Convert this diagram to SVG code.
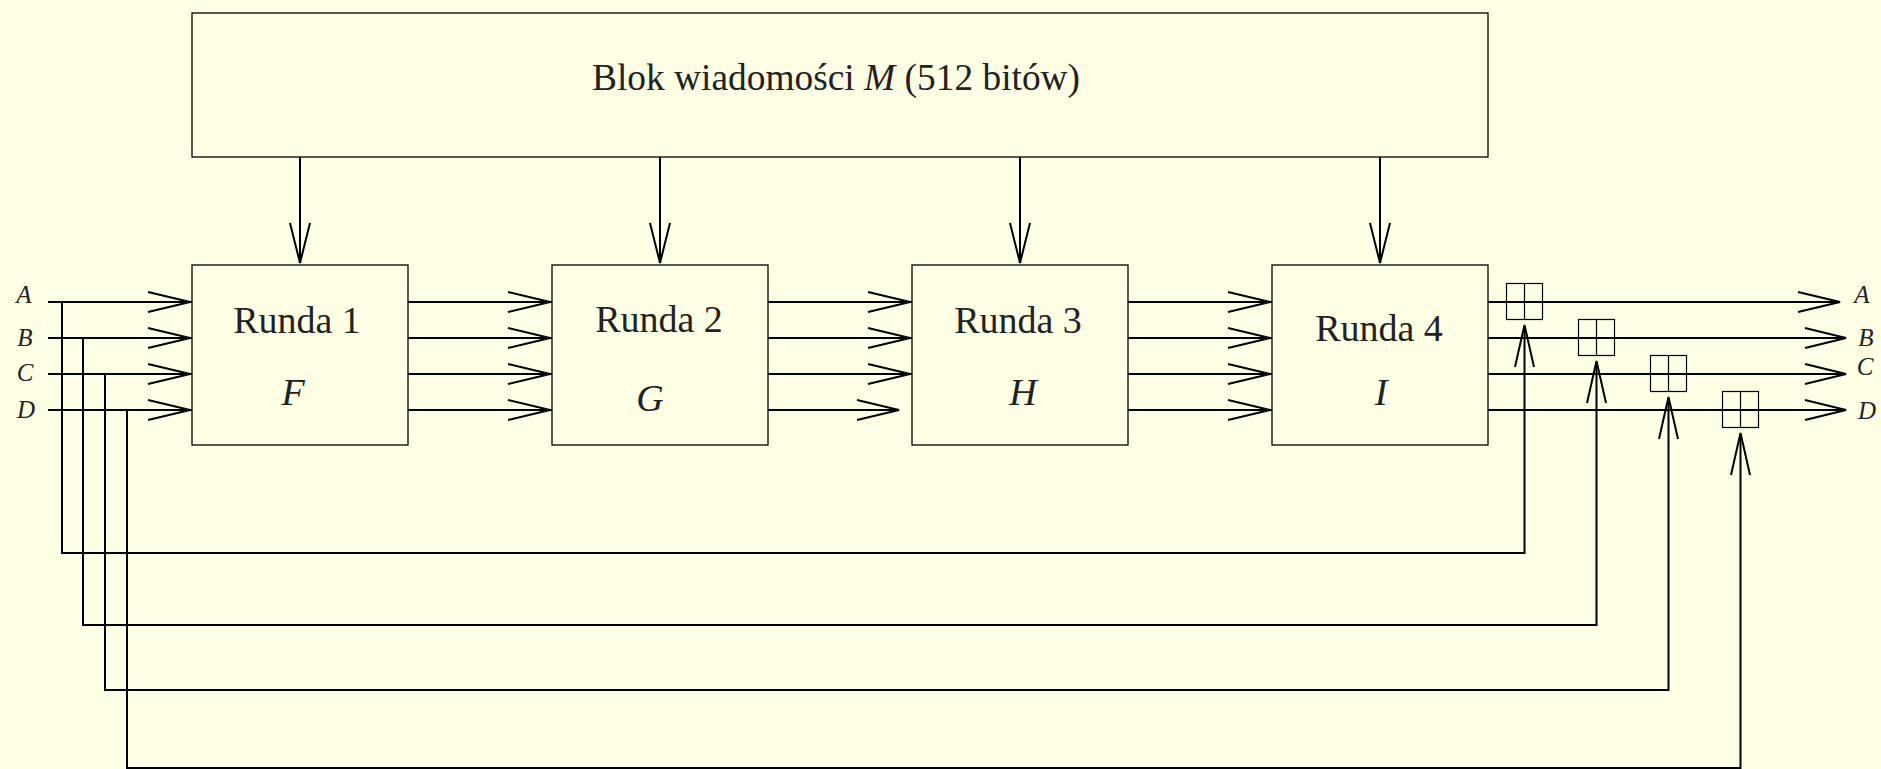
<svg xmlns="http://www.w3.org/2000/svg" width="1881" height="769" viewBox="0 0 1881 769">
<style>
.bg{fill:#FFFFE5}
.box{fill:none;stroke:#000;stroke-width:1.3}
.ln{fill:none;stroke:#000;stroke-width:2}
.ah{fill:none;stroke:#000;stroke-width:2;stroke-linejoin:miter}
.pl{fill:none;stroke:#000;stroke-width:1.2}
.t{font-family:"Liberation Serif",serif;font-size:38px;fill:#222}
.it{font-style:italic}
.lb{font-family:"Liberation Serif",serif;font-size:25px;font-style:italic;fill:#222;text-anchor:middle}
</style>
<rect class="bg" x="0" y="0" width="1881" height="769"/>

<g id="msg">
<rect class="box" x="192" y="13" width="1296" height="144"/>
<text class="t" x="836" y="90" text-anchor="middle" style="font-size:37.4px">Blok wiadomości <tspan class="it">M</tspan> (512 bitów)</text>
</g>

<g id="r1">
<rect class="box" x="192" y="265" width="216" height="180"/>
<text class="t" x="297" y="333" text-anchor="middle">Runda 1</text>
<text class="t it" x="293" y="405" text-anchor="middle">F</text>
</g>
<g id="r2">
<rect class="box" x="552" y="265" width="216" height="180"/>
<text class="t" x="659" y="332" text-anchor="middle">Runda 2</text>
<text class="t it" x="650" y="411" text-anchor="middle">G</text>
</g>
<g id="r3">
<rect class="box" x="912" y="265" width="216" height="180"/>
<text class="t" x="1018" y="333" text-anchor="middle">Runda 3</text>
<text class="t it" x="1023" y="405" text-anchor="middle">H</text>
</g>
<g id="r4">
<rect class="box" x="1272" y="265" width="216" height="180"/>
<text class="t" x="1379" y="341" text-anchor="middle">Runda 4</text>
<text class="t it" x="1381" y="405" text-anchor="middle">I</text>
</g>

<g id="add1"><rect class="pl" x="1506.5" y="283.5" width="36" height="36"/><line class="pl" x1="1524.5" y1="283.5" x2="1524.5" y2="319.5"/></g>
<g id="add2"><rect class="pl" x="1578.5" y="319.5" width="36" height="36"/><line class="pl" x1="1596.5" y1="319.5" x2="1596.5" y2="355.5"/></g>
<g id="add3"><rect class="pl" x="1650.5" y="355.5" width="36" height="36"/><line class="pl" x1="1668.5" y1="355.5" x2="1668.5" y2="391.5"/></g>
<g id="add4"><rect class="pl" x="1722.5" y="391.5" width="36" height="36"/><line class="pl" x1="1740.5" y1="391.5" x2="1740.5" y2="427.5"/></g>

<g id="labels">
<text class="lb" x="24" y="303">A</text>
<text class="lb" x="25" y="346">B</text>
<text class="lb" x="25" y="381">C</text>
<text class="lb" x="26" y="418">D</text>
<text class="lb" x="1862" y="303">A</text>
<text class="lb" x="1866" y="346">B</text>
<text class="lb" x="1865" y="375">C</text>
<text class="lb" x="1867" y="419">D</text>
</g>

<g id="connectors">
<path class="ln" d="M300 157V263M660 157V263M1020 157V263M1380 157V263"/>
<path class="ah" d="M290 223L300 263L310 223M650 223L660 263L670 223M1010 223L1020 263L1030 223M1370 223L1380 263L1390 223"/>
<path class="ln" d="M48 302H192M48 338H192M48 374H192M48 410H192"/>
<path class="ah" d="M148 292L190 302L148 312M148 328L190 338L148 348M148 364L190 374L148 384M148 400L190 410L148 420"/>
<path class="ln" d="M408 302H552M408 338H552M408 374H552M408 410H552"/>
<path class="ah" d="M508 292L550 302L508 312M508 328L550 338L508 348M508 364L550 374L508 384M508 400L550 410L508 420"/>
<path class="ln" d="M768 302H912M768 338H912M768 374H912M768 410H899"/>
<path class="ah" d="M868 292L910 302L868 312M868 328L910 338L868 348M868 364L910 374L868 384M857 400L899 410L857 420"/>
<path class="ln" d="M1128 302H1272M1128 338H1272M1128 374H1272M1128 410H1272"/>
<path class="ah" d="M1228 292L1270 302L1228 312M1228 328L1270 338L1228 348M1228 364L1270 374L1228 384M1228 400L1270 410L1228 420"/>
<path class="ln" d="M1488 302H1840M1488 338H1846M1488 374H1846M1488 410H1846"/>
<path class="ah" d="M1798 292L1840 302L1798 312M1805 328L1846 338L1805 348M1805 364L1846 374L1805 384M1805 400L1846 410L1805 420"/>
<path class="ln" d="M62 302V553H1524.5V326"/>
<path class="ln" d="M83 338V625H1596.5V362"/>
<path class="ln" d="M105 374V690H1668.5V398"/>
<path class="ln" d="M127 410V768H1740.5V434"/>
<path class="ah" d="M1515 367L1524.5 325L1534 367M1587 403L1596.5 361L1606 403M1659 439L1668.5 397L1678 439M1731 475L1740.5 433L1750 475"/>
</g>
</svg>
